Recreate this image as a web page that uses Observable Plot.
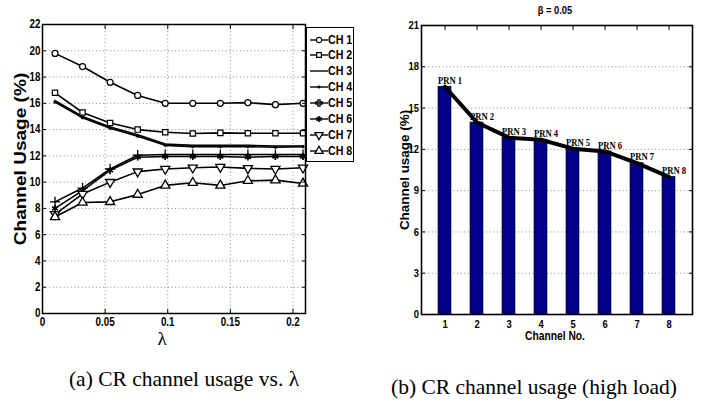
<!DOCTYPE html>
<html><head><meta charset="utf-8">
<script src="https://cdn.jsdelivr.net/npm/d3@7"></script>
<script src="https://cdn.jsdelivr.net/npm/@observablehq/plot@0.6"></script>
<style>
body{margin:0;background:#fff;}
#root{position:relative;width:716px;height:403px;overflow:hidden;background:#fff;color:#000;}
.abs{position:absolute;line-height:1;white-space:nowrap;}
.narrow{font-family:"Liberation Sans Narrow","Arial Narrow","Liberation Sans",Arial,sans-serif;font-weight:bold;}
.sans{font-family:"Liberation Sans",Arial,sans-serif;font-weight:bold;}
.cap{font-family:"Liberation Serif","Times New Roman",serif;font-size:21.5px;}
#legend{position:absolute;left:306px;top:27px;width:46px;height:133px;border:1.4px solid #000;background:#fff;}
.lrow{position:absolute;left:2px;height:14px;width:60px;white-space:nowrap;}
.lrow svg{position:absolute;left:0;top:0;}
.lrow span{position:absolute;left:19px;top:0;line-height:14px;font-family:"Liberation Sans",Arial,sans-serif;font-weight:bold;font-size:13px;transform:scaleX(0.82);transform-origin:0 50%;white-space:nowrap;}
</style></head><body><div id="root"></div>
<script>
// ---------- (a) CR channel usage vs. lambda ----------
const lambda = [0.01, 0.032, 0.054, 0.076, 0.098, 0.12, 0.142, 0.164, 0.186, 0.208];
const ch1 = [19.8, 18.8, 17.6, 16.6, 16.0, 16.0, 16.0, 16.05, 15.9, 16.0];
const ch2 = [16.8, 15.3, 14.5, 14.0, 13.8, 13.7, 13.75, 13.72, 13.72, 13.72];
const ch3 = [16.2, 15.0, 14.2, 13.6, 12.9, 12.8, 12.8, 12.8, 12.75, 12.75];
const ch4 = [16.1, 14.9, 14.1, 13.5, 12.8, 12.7, 12.7, 12.7, 12.65, 12.7];
const ch5 = [8.5, 9.55, 11.0, 12.05, 12.1, 12.1, 12.1, 12.1, 12.1, 12.1];
const ch6 = [8.0, 9.35, 10.9, 11.9, 11.95, 11.95, 11.95, 11.9, 11.95, 11.95];
const ch7 = [7.55, 9.1, 10.0, 10.8, 11.0, 11.1, 11.15, 11.05, 11.0, 11.1];
const ch8 = [7.35, 8.45, 8.5, 9.05, 9.75, 9.95, 9.75, 10.1, 10.15, 9.9];
const seriesNames = ["CH 1", "CH 2", "CH 3", "CH 4", "CH 5", "CH 6", "CH 7", "CH 8"];
const lambdaTicks = [0, 0.05, 0.1, 0.15, 0.2];
const usageTicks = [0, 2, 4, 6, 8, 10, 12, 14, 16, 18, 20, 22];

// ---------- (b) CR channel usage (high load) ----------
const channels = [1, 2, 3, 4, 5, 6, 7, 8];
const prnLabels = ["PRN 1", "PRN 2", "PRN 3", "PRN 4", "PRN 5", "PRN 6", "PRN 7", "PRN 8"];
const highLoadUsage = [16.55, 13.95, 12.85, 12.7, 12.05, 11.85, 11.0, 10.0];
const usageTicksB = [0, 3, 6, 9, 12, 15, 18, 21];

const seriesValues = [ch1, ch2, ch3, ch4, ch5, ch6, ch7, ch8];
const rows = seriesNames.flatMap((name, s) => lambda.map((l, i) => ({series: name, lambda: l, usage: seriesValues[s][i]})));
const barRows = channels.map((c, i) => ({channel: c, usage: highLoadUsage[i], label: prnLabels[i]}));

const sqrt3 = Math.sqrt(3);
const triangleDown = {draw(ctx, size) {
  const y = -Math.sqrt(size / (sqrt3 * 3));
  ctx.moveTo(0, -y * 2); ctx.lineTo(-sqrt3 * y, y); ctx.lineTo(sqrt3 * y, y); ctx.closePath();
}};
const markerStyles = {
  "CH 1": {symbol: "circle", r: 3, fill: "#fff", strokeWidth: 1.2},
  "CH 2": {symbol: "square", r: 3, fill: "#fff", strokeWidth: 1.2},
  "CH 4": {symbol: "circle", r: 1.4, fill: "#000", strokeWidth: 0.5},
  "CH 5": {symbol: "plus", r: 3.4, fill: "none", strokeWidth: 1.3},
  "CH 6": {symbol: "asterisk", r: 3.2, fill: "#000", strokeWidth: 1.6},
  "CH 7": {symbol: triangleDown, r: 3.4, fill: "#fff", strokeWidth: 1.3},
  "CH 8": {symbol: "triangle", r: 3.4, fill: "#fff", strokeWidth: 1.3}
};

const sansFont = "'Liberation Sans',Arial,sans-serif";
const gridStyle = {stroke: "#000", strokeOpacity: 0.6, strokeDasharray: "1,2.6", strokeWidth: 0.8};

const root = document.getElementById("root");
function place(el, left, top) { el.style.position = "absolute"; el.style.left = left + "px"; el.style.top = top + "px"; root.appendChild(el); }
function label(text, cls, cx, cy, extra = "") {
  const d = document.createElement("div");
  d.className = "abs " + cls; d.textContent = text;
  d.style.left = cx + "px"; d.style.top = cy + "px";
  d.style.transform = "translate(-50%,-50%) " + extra;
  root.appendChild(d); return d;
}
// squeeze text horizontally about its anchor (the reference uses a condensed face)
function condense(svg, selector, k) {
  svg.querySelectorAll(selector).forEach(t => {
    const tr = t.getAttribute("transform");
    if (tr) t.setAttribute("transform", tr + ` scale(${k},1)`);
    else {
      const x = +t.getAttribute("x") || 0, y = +t.getAttribute("y") || 0;
      t.removeAttribute("x"); t.removeAttribute("y");
      t.setAttribute("transform", `translate(${x},${y}) scale(${k},1)`);
    }
  });
}

const plotA = Plot.plot({
  width: 310, height: 350,
  marginLeft: 42, marginRight: 5, marginTop: 24, marginBottom: 37,
  style: {fontFamily: sansFont, fontWeight: "bold", fontSize: "12px", background: "transparent", color: "#000", overflow: "visible"},
  x: {domain: [0, 0.21]},
  y: {domain: [0, 22]},
  marks: [
    Plot.gridX(lambdaTicks.filter(t => t > 0), gridStyle),
    Plot.gridY(usageTicks.filter(t => t > 0 && t < 22), gridStyle),
    Plot.line(rows, {x: "lambda", y: "usage", z: "series", stroke: "#000", strokeWidth: 1.6}),
    ...Object.entries(markerStyles).map(([name, st]) =>
      Plot.dot(rows.filter(d => d.series === name), {x: "lambda", y: "usage", stroke: "#000", ...st})),
    Plot.axisX(lambdaTicks, {anchor: "bottom", tickSize: -4, tickPadding: 8, tickFormat: d => String(d), label: null}),
    Plot.axisX(lambdaTicks, {anchor: "top", tickSize: -4, fill: "none", label: null}),
    Plot.axisY(usageTicks, {anchor: "left", tickSize: -4, tickPadding: 6, label: null}),
    Plot.axisY(usageTicks, {anchor: "right", tickSize: -4, fill: "none", label: null}),
    Plot.frame({stroke: "#000", strokeWidth: 1.5})
  ]
});
condense(plotA, 'g[aria-label$="tick label"] text', 0.82);
place(plotA, 0, 0);

const plotB = Plot.plot({
  width: 346, height: 344,
  marginLeft: 51, marginRight: 24, marginTop: 25, marginBottom: 30,
  style: {fontFamily: sansFont, fontWeight: "bold", fontSize: "11.5px", background: "transparent", color: "#000", overflow: "visible"},
  x: {type: "band", domain: channels, paddingInner: 0.58, paddingOuter: 0.4},
  y: {domain: [0, 21]},
  marks: [
    Plot.gridY(usageTicksB.filter(t => t > 0 && t < 21), gridStyle),
    Plot.barY(barRows, {x: "channel", y: "usage", fill: "#00008c", stroke: "#000", strokeWidth: 0.6}),
    Plot.line(barRows, {x: "channel", y: "usage", stroke: "#000", strokeWidth: 4}),
    Plot.text(barRows, {x: "channel", y: "usage", text: "label", dy: -6, dx: 5,
      fontFamily: "'Liberation Serif','Times New Roman',serif", fontWeight: "bold", fontSize: 10.5}),
    Plot.axisX(channels, {anchor: "bottom", tickSize: -4, tickPadding: 9, label: null}),
    Plot.axisX(channels, {anchor: "top", tickSize: -4, fill: "none", label: null}),
    Plot.axisY(usageTicksB, {anchor: "left", tickSize: -4, tickPadding: 6.5, label: null}),
    Plot.axisY(usageTicksB, {anchor: "right", tickSize: -4, fill: "none", label: null}),
    Plot.frame({stroke: "#000", strokeWidth: 1.6})
  ]
});
condense(plotB, 'g[aria-label$="tick label"] text', 0.82);
condense(plotB, 'g[aria-label="text"] text', 0.82);
place(plotB, 370, 0);

// legend for (a)
const legend = document.createElement("div");
legend.id = "legend";
root.appendChild(legend);
const legendY = [12, 27, 43, 59, 75, 91, 107, 123];
const symMap = {circle: d3.symbolCircle, square: d3.symbolSquare, plus: d3.symbolCross, asterisk: d3.symbolAsterisk, triangle: d3.symbolTriangle};
seriesNames.forEach((name, i) => {
  const row = document.createElement("div");
  row.className = "lrow";
  row.style.top = (legendY[i] - 7) + "px";
  const svg = d3.create("svg").attr("width", 19).attr("height", 14);
  svg.append("line").attr("x1", 1).attr("x2", 19).attr("y1", 7).attr("y2", 7).attr("stroke", "#000").attr("stroke-width", 1.4);
  const st = markerStyles[name];
  if (st) {
    const type = typeof st.symbol === "string" ? symMap[st.symbol] : st.symbol;
    const size = st.symbol === "plus" ? st.r * st.r * Math.PI * 0.6 : st.r * st.r * Math.PI * 0.8;
    svg.append("path").attr("transform", "translate(10,7)")
      .attr("d", d3.symbol(type, size)())
      .attr("fill", st.fill).attr("stroke", "#000").attr("stroke-width", st.strokeWidth);
  }
  row.appendChild(svg.node());
  const t = document.createElement("span"); t.textContent = name;
  row.appendChild(t);
  legend.appendChild(row);
});

// texts
label("Channel Usage (%)", "sans", 20, 159, "rotate(-90deg) scale(1.12,1)").style.fontSize = "17px";
label("λ", "cap", 162, 338).style.fontSize = "19px";
label("(a) CR channel usage vs. λ", "cap", 184, 380);
label("β = 0.05", "sans", 555, 10, "scale(0.85,1)").style.fontSize = "11px";
label("Channel usage (%)", "sans", 405, 170, "rotate(-90deg) scale(1.12,1)").style.fontSize = "12px";
label("Channel No.", "sans", 555, 336, "scale(0.82,1)").style.fontSize = "12.5px";
label("(b) CR channel usage (high load)", "cap", 534, 388);
</script>
</body></html>
